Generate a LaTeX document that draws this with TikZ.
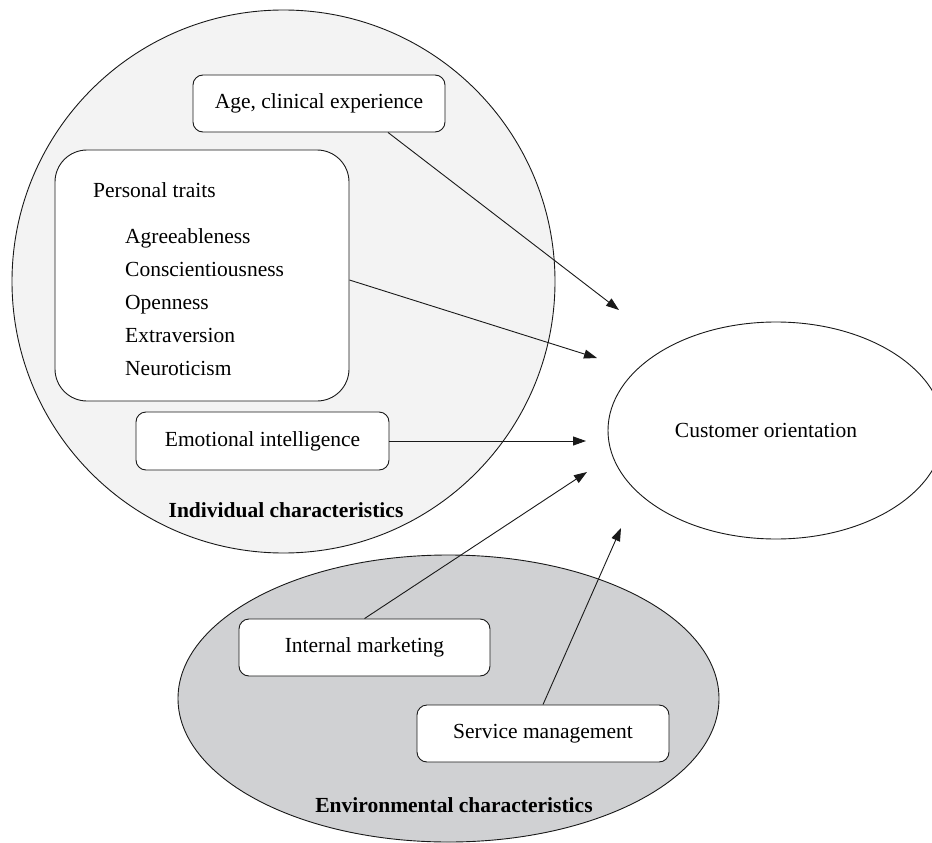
\documentclass[tikz,border=0pt]{standalone}
\usepackage{fontspec}
\setmainfont{Liberation Serif}
\usetikzlibrary{arrows.meta,shapes.geometric}
\definecolor{indfill}{HTML}{F3F3F3}
\definecolor{envfill}{HTML}{D0D1D3}
\begin{document}
\begin{tikzpicture}[x=1pt,y=-1pt,
  every node/.style={font=\fontsize{21.5}{26}\selectfont},
  outline/.style={draw=black!90,line width=0.9pt},
  factor/.style={outline,fill=white,rounded corners=10pt,minimum width=252pt,minimum height=57pt,inner sep=0pt},
  conn/.style={line width=0.9pt,draw=black!90,-{Triangle[length=13pt,width=9pt]}},
  grouplabel/.style={font=\fontsize{21.5}{26}\selectfont\bfseries}
]
\clip (0,0) rectangle (932,843);
\fill[white] (0,0) rectangle (932,843);
% groups
\node[outline,fill=indfill,circle,minimum size=543pt,inner sep=0pt] (indiv) at (283.5,281.5) {};
\node[outline,fill=envfill,ellipse,minimum width=541pt,minimum height=287pt,inner sep=0pt] (env) at (448.5,698.5) {};
\node[outline,fill=white,ellipse,minimum width=336pt,minimum height=217pt,inner sep=0pt] (cust) at (776,430.5) {};
\node (custtxt) at (766,430) {Customer orientation};
% factor boxes
\node[factor] (age) at (319,103.5) {Age, clinical experience};
\node[outline,fill=white,rounded corners=32pt,minimum width=294pt,minimum height=251pt,inner sep=0pt] (pers) at (202,275.5) {};
\node[anchor=base west,inner sep=0pt] (ptitle) at (93,197) {Personal traits};
\node[anchor=base west,inner sep=0pt] (p1) at (125,243) {Agreeableness};
\node[anchor=base west,inner sep=0pt] (p2) at (125,276) {Conscientiousness};
\node[anchor=base west,inner sep=0pt] (p3) at (125,309) {Openness};
\node[anchor=base west,inner sep=0pt] (p4) at (125,342) {Extraversion};
\node[anchor=base west,inner sep=0pt] (p5) at (125,375) {Neuroticism};
\node[factor,minimum width=253pt,minimum height=58pt] (ei) at (262.5,441) {Emotional intelligence};
\node[grouplabel] (indlabel) at (286,510) {Individual characteristics};
\node[factor,minimum width=251pt] (im) at (364.5,647.5) {Internal marketing};
\node[factor] (sm) at (543,733.5) {Service management};
\node[grouplabel] (envlabel) at (454,805) {Environmental characteristics};
% arrow targets
\coordinate (t1) at (619,310);
\coordinate (t2) at (597,358);
\coordinate (t3) at (586,441);
\coordinate (t4) at (587,472);
\coordinate (t5) at (621,528);
% connectors
\draw[conn] ([xshift=69pt]age.south) -- (t1);
\draw[conn] ([yshift=-4.5pt]pers.east) -- (t2);
\draw[conn] (ei.east) -- (t3);
\draw[conn] (im.north) -- (t4);
\draw[conn] (sm.north) -- (t5);
\end{tikzpicture}
\end{document}
